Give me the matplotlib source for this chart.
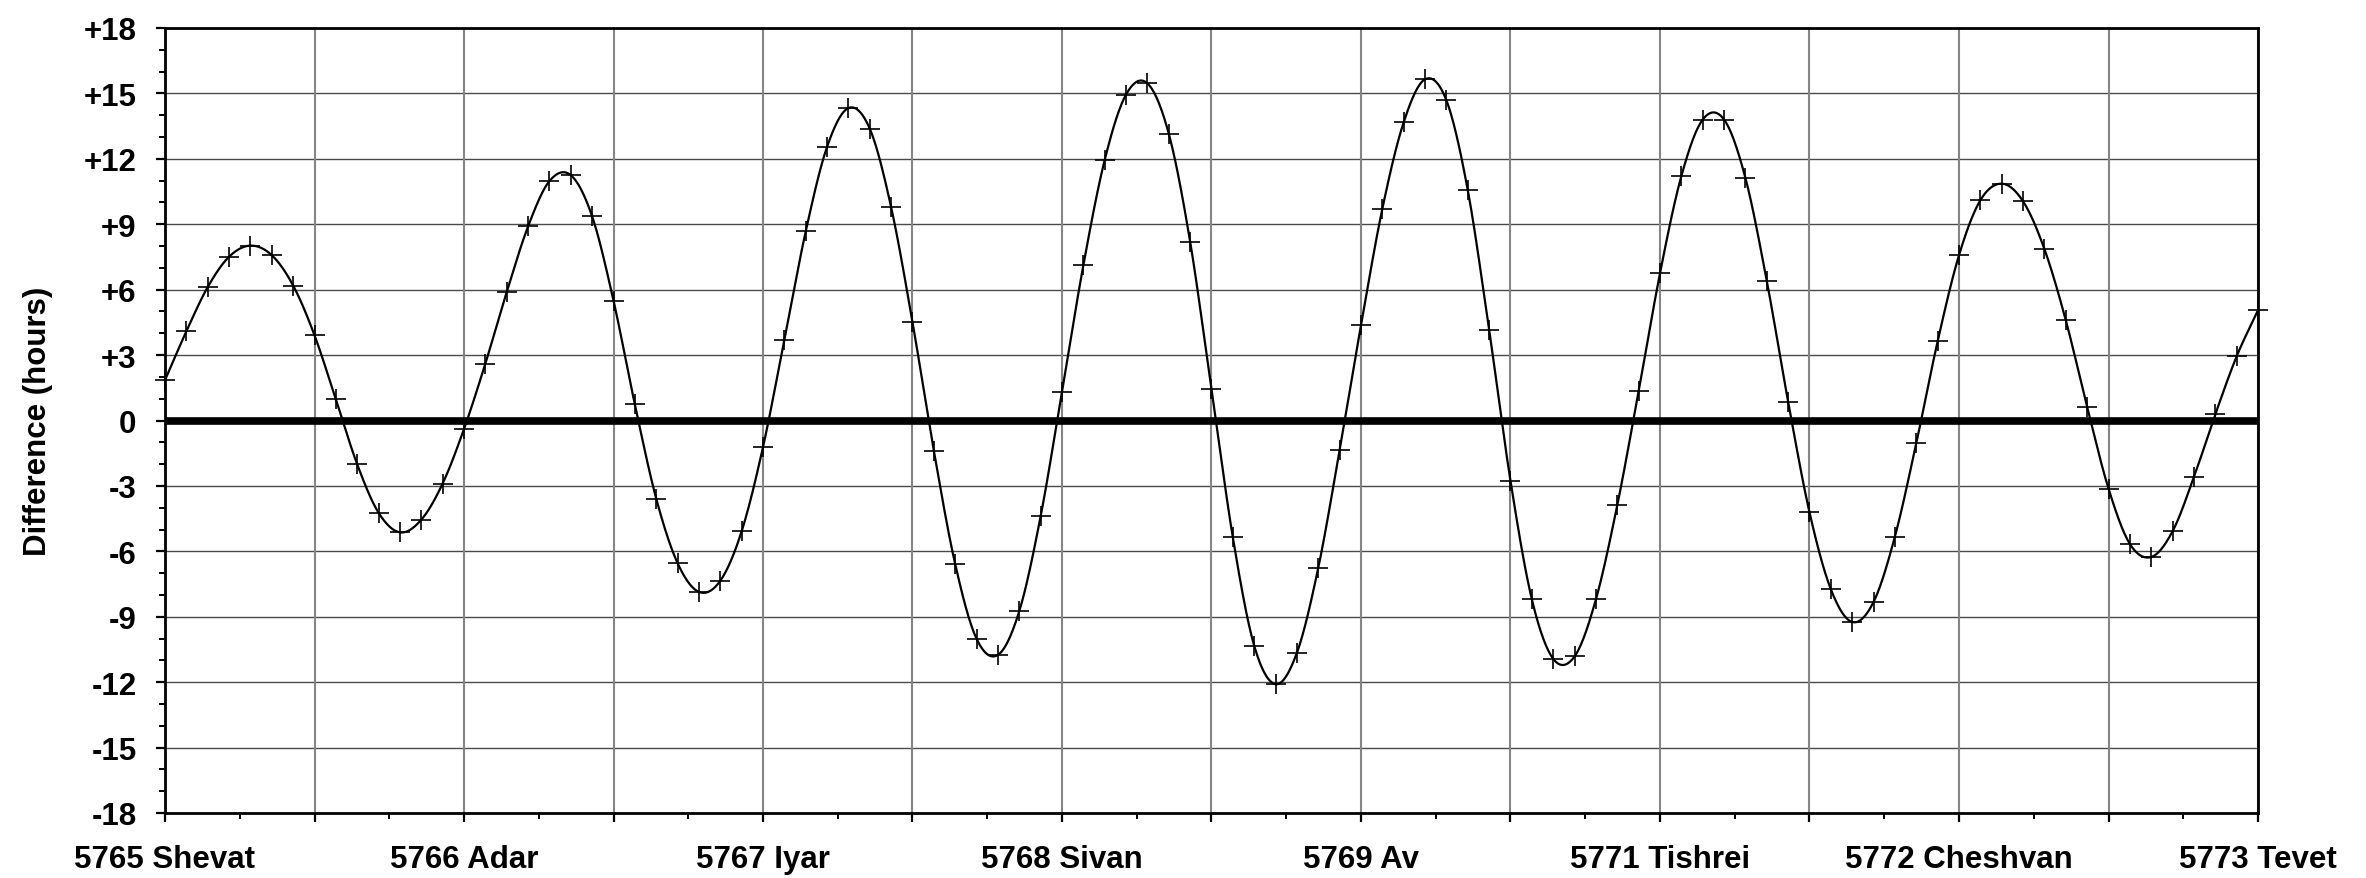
import numpy as np
import matplotlib
matplotlib.use("Agg")
import matplotlib.pyplot as plt
from matplotlib.ticker import FixedLocator, MultipleLocator

# ---- data ----
differences = [1.85, 4.09, 6.12, 7.51, 8.02, 7.58, 6.19, 3.91, 0.97, -2.01, -4.23, -5.13, -4.55, -2.89, -0.39,
               2.61, 5.89, 8.90, 10.98, 11.25, 9.36, 5.50, 0.74, -3.58, -6.54, -7.86, -7.35, -5.08, -1.22,
               3.70, 8.67, 12.55, 14.33, 13.38, 9.78, 4.51, -1.39, -6.59, -10.01, -10.75, -8.74, -4.39, 1.32,
               7.12, 11.95, 14.95, 15.46, 13.15, 8.20, 1.43, -5.36, -10.33, -12.09, -10.65, -6.75, -1.36, 4.37,
               9.71, 13.68, 15.65, 14.68, 10.56, 4.16, -2.77, -8.20, -10.93, -10.82, -8.20, -3.88, 1.34, 6.75,
               11.21, 13.80, 13.80, 11.12, 6.40, 0.86, -4.21, -7.74, -9.24, -8.32, -5.32, -1.04, 3.63, 7.58,
               10.10, 10.86, 10.05, 7.86, 4.60, 0.62, -3.12, -5.66, -6.26, -5.08, -2.59, 0.28, 2.94, 5.06]
month_labels = ["5765 Shevat", "5766 Adar", "5767 Iyar", "5768 Sivan",
                "5769 Av", "5771 Tishrei", "5772 Cheshvan", "5773 Tevet"]
y_ticks = [18, 15, 12, 9, 6, 3, 0, -3, -6, -9, -12, -15, -18]
y_tick_labels = ["+18", "+15", "+12", "+9", "+6", "+3", "0", "-3", "-6", "-9", "-12", "-15", "-18"]

months = np.arange(len(differences))
vals = np.array(differences)

# smooth curve (Catmull-Rom through the points, like a spreadsheet "smoothed line")
def catmull_rom(x, y, n=24):
    px = np.concatenate([[2 * x[0] - x[1]], x, [2 * x[-1] - x[-2]]])
    py = np.concatenate([[2 * y[0] - y[1]], y, [2 * y[-1] - y[-2]]])
    t = np.linspace(0, 1, n, endpoint=False)
    xs, ys = [], []
    for i in range(1, len(px) - 2):
        for arr, out in ((px, xs), (py, ys)):
            p0, p1, p2, p3 = arr[i - 1], arr[i], arr[i + 1], arr[i + 2]
            out.append(0.5 * ((2 * p1) + (-p0 + p2) * t + (2 * p0 - 5 * p1 + 4 * p2 - p3) * t ** 2
                              + (-p0 + 3 * p1 - 3 * p2 + p3) * t ** 3))
    xs = np.concatenate(xs + [[x[-1]]])
    ys = np.concatenate(ys + [[y[-1]]])
    return xs, ys

sx, sy = catmull_rom(months.astype(float), vals)

plt.rcParams['font.family'] = ['Liberation Sans', 'DejaVu Sans']
fig = plt.figure(figsize=(23.66, 8.79), dpi=100)
ax = fig.add_axes([165 / 2366, 1 - 814 / 879, (2258 - 165) / 2366, (814 - 29) / 879])

ax.set_xlim(0, len(differences) - 1)
ax.set_ylim(-18, 18)

# grid
for yv in y_ticks:
    ax.axhline(yv, color='#4a4a4a', lw=1.0, zorder=0)
for xv in range(0, len(differences), 7):
    ax.axvline(xv, color='#858585', lw=1.5, zorder=0)
ax.axhline(0, color='black', lw=5.5, zorder=1)

ax.plot(sx, sy, color='black', lw=1.6, zorder=3)
ax.plot(months, vals, linestyle='none', marker='+', color='black',
        markersize=14, markeredgewidth=1.2, zorder=4, clip_on=False)

# ticks
ax.yaxis.set_major_locator(FixedLocator(y_ticks))
ax.set_yticklabels(y_tick_labels)
ax.yaxis.set_minor_locator(MultipleLocator(1))
major_x = list(range(0, len(differences), 7))
ax.xaxis.set_major_locator(FixedLocator(major_x))
lbls = []
k = 0
for j, xv in enumerate(major_x):
    if j % 2 == 0:
        lbls.append(month_labels[k]); k += 1
    else:
        lbls.append("")
ax.set_xticklabels(lbls)
ax.xaxis.set_minor_locator(FixedLocator([x + 3.5 for x in major_x[:-1]]))

ax.tick_params(axis='both', which='major', direction='out', length=6.5, width=1.6,
               labelsize=22.5)
ax.tick_params(axis='both', which='minor', direction='out', length=4.5, width=1.4)
ax.tick_params(axis='x', which='major', pad=16)
ax.tick_params(axis='y', which='major', pad=14)
for lab in ax.get_xticklabels() + ax.get_yticklabels():
    lab.set_fontweight('bold')

for s in ax.spines.values():
    s.set_linewidth(2.0)
    s.set_color('black')

ax.set_ylabel("Difference (hours)", fontsize=22.5, fontweight='bold', labelpad=22)

fig.savefig("out.png", dpi=100)
